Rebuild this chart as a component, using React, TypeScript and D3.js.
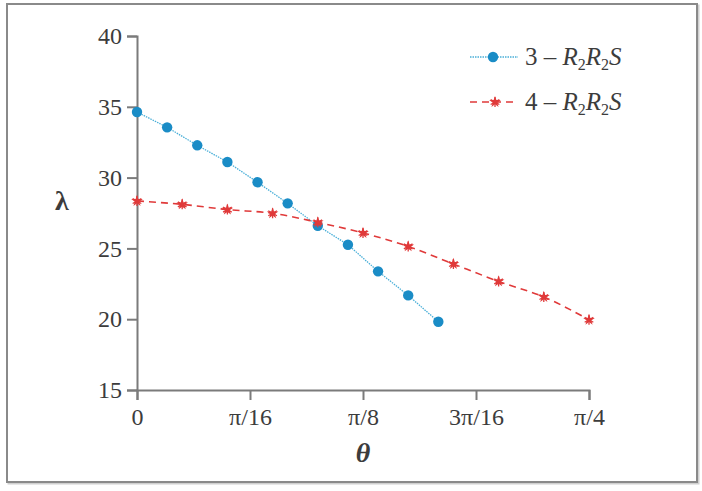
import React, { useEffect, useRef } from "react";
import * as d3 from "d3";

const WIDTH = 702;
const HEIGHT = 491;
const MARGIN = { top: 36, right: 113, bottom: 101, left: 137 };

// theta in degrees, lambda values per series
const thetaBlue = [0, 3, 6, 9, 12, 15, 18, 21, 24, 27, 30];
const lambdaBlue = [34.63, 33.55, 32.28, 31.1, 29.67, 28.18, 26.6, 25.26, 23.38, 21.68, 19.82];

const thetaRed = [0, 4.5, 9, 13.5, 18, 22.5, 27, 31.5, 36, 40.5, 45];
const lambdaRed = [28.35, 28.11, 27.74, 27.48, 26.84, 26.09, 25.14, 23.9, 22.67, 21.57, 19.96];

const xTickValues = [0, 11.25, 22.5, 33.75, 45];
const xTickLabels = ["0", "π/16", "π/8", "3π/16", "π/4"];
const yTickValues = [15, 20, 25, 30, 35, 40];

const BLUE = "#1a8cc6";
const BLUE_LINE = "#4aafd8";
const RED = "#e03a3a";
const AXIS = "#7b7b7b";
const TEXT = "#3c3c3c";
const FONT = "'Liberation Serif'";

function LambdaChart() {
  const xAxisRef = useRef<SVGGElement>(null);
  const yAxisRef = useRef<SVGGElement>(null);

  const boundsWidth = WIDTH - MARGIN.left - MARGIN.right;
  const boundsHeight = HEIGHT - MARGIN.top - MARGIN.bottom;

  const xScale = d3.scaleLinear().domain([0, 45]).range([0, boundsWidth]);
  const yScale = d3.scaleLinear().domain([15, 40]).range([boundsHeight, 0]);

  const blueLine = d3
    .line<number>()
    .x((_, i) => xScale(thetaBlue[i]))
    .y((d) => yScale(d))
    .curve(d3.curveLinear);

  const redLine = d3
    .line<number>()
    .x((_, i) => xScale(thetaRed[i]))
    .y((d) => yScale(d))
    .curve(d3.curveMonotoneX);

  const star = d3.symbol().type(d3.symbolStar).size(42)();
  const asterisk = d3.symbol().type(d3.symbolAsterisk).size(70)();

  useEffect(() => {
    const xAxis = d3
      .axisBottom(xScale)
      .tickValues(xTickValues)
      .tickFormat((_, i) => xTickLabels[i])
      .tickSize(10)
      .tickPadding(8);
    const yAxis = d3
      .axisLeft(yScale)
      .tickValues(yTickValues)
      .tickSize(10)
      .tickPadding(5);

    for (const [ref, axis] of [
      [xAxisRef, xAxis],
      [yAxisRef, yAxis],
    ] as const) {
      const g = d3.select(ref.current!);
      g.call(axis as any);
      g.attr("font-family", FONT).attr("font-size", 24);
      g.selectAll("path, line").attr("stroke", AXIS).attr("stroke-width", 2);
      g.selectAll("text").attr("fill", TEXT);
    }
  }, []);

  const starMark = (key: string | number, x: number, y: number) => (
    <g key={key} transform={`translate(${x},${y})`}>
      <path d={star} fill={RED} />
      <path d={asterisk} stroke={RED} strokeWidth={1.3} fill="none" />
    </g>
  );

  return (
    <svg
      width={WIDTH}
      height={HEIGHT}
      style={{ position: "absolute", left: 0, top: 0, background: "#fff" }}
    >
      {/* frame */}
      <rect x={8.5} y={5.5} width={690} height={478} fill="none" stroke="#d0d0d0" strokeWidth={2} />
      <rect x={7} y={4} width={690} height={478} fill="#fff" stroke="#8a8a8a" strokeWidth={2} />

      <g transform={`translate(${MARGIN.left}, ${MARGIN.top})`}>
        <g ref={yAxisRef} />
        <g ref={xAxisRef} transform={`translate(0, ${boundsHeight})`} />

        {/* series 3 */}
        <path
          d={blueLine(lambdaBlue) ?? ""}
          fill="none"
          stroke={BLUE_LINE}
          strokeWidth={1.3}
          strokeDasharray="1.5 1"
        />
        {lambdaBlue.map((d, i) => (
          <circle key={i} cx={xScale(thetaBlue[i])} cy={yScale(d)} r={5.2} fill={BLUE} />
        ))}

        {/* series 4 */}
        <path
          d={redLine(lambdaRed) ?? ""}
          fill="none"
          stroke={RED}
          strokeWidth={1.6}
          strokeDasharray="7 5"
        />
        {lambdaRed.map((d, i) => starMark(i, xScale(thetaRed[i]), yScale(d)))}
      </g>

      {/* axis titles */}
      <text
        x={363}
        y={462}
        textAnchor="middle"
        fontFamily={FONT}
        fontStyle="italic"
        fontWeight="bold"
        fontSize={28}
        fill={TEXT}
      >
        θ
      </text>
      <text
        x={62}
        y={210}
        textAnchor="middle"
        fontFamily={FONT}
        fontWeight="bold"
        fontSize={28}
        fill={TEXT}
      >
        λ
      </text>

      {/* legend */}
      <g fontFamily={FONT} fontSize={25} fill={TEXT}>
        <line x1={470} x2={518} y1={57} y2={57} stroke={BLUE_LINE} strokeWidth={1.3} strokeDasharray="1.5 1" />
        <circle cx={493} cy={57} r={5.2} fill={BLUE} />
        <text x={525} y={65}>
          3 – <tspan fontStyle="italic">R</tspan>
          <tspan dy={5} fontSize={16}>2</tspan>
          <tspan dy={-5} fontStyle="italic">R</tspan>
          <tspan dy={5} fontSize={16}>2</tspan>
          <tspan dy={-5} fontStyle="italic">S</tspan>
        </text>

        <line x1={470} x2={518} y1={102} y2={102} stroke={RED} strokeWidth={1.6} strokeDasharray="7 5" />
        {starMark("legend", 495, 102)}
        <text x={525} y={110}>
          4 – <tspan fontStyle="italic">R</tspan>
          <tspan dy={5} fontSize={16}>2</tspan>
          <tspan dy={-5} fontStyle="italic">R</tspan>
          <tspan dy={5} fontSize={16}>2</tspan>
          <tspan dy={-5} fontStyle="italic">S</tspan>
        </text>
      </g>
    </svg>
  );
}

export default function App() {
  return <LambdaChart />;
}
